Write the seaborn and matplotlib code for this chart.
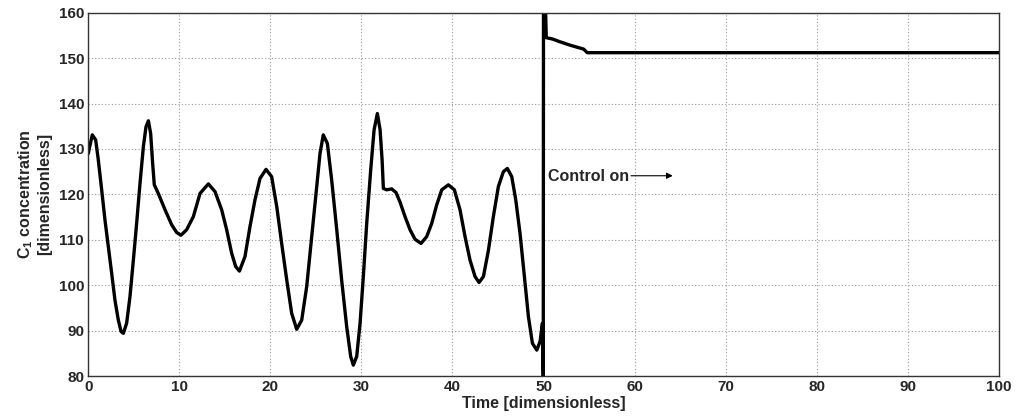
import numpy as np
import pandas as pd
import matplotlib
matplotlib.use("Agg")
import matplotlib.pyplot as plt
import seaborn as sns

# values (time, C1 concentration)
time = [0.0, 0.08, 0.44, 0.81, 1.10, 1.47, 1.83, 2.2, 2.57, 2.93, 3.3, 3.6, 3.85,
        4.21, 4.58, 4.95, 5.31, 5.68, 6.05, 6.34, 6.6, 6.85, 7.07, 7.25, 7.69,
        8.43, 9.16, 9.71, 10.18, 10.8, 11.54, 12.27, 13.19, 13.92, 14.65, 15.2,
        15.75, 16.19, 16.6, 17.21, 17.76, 18.31, 18.86, 19.52, 20.14, 20.7,
        21.24, 21.8, 22.34, 22.89, 23.44, 23.99, 24.54, 25.09, 25.45, 25.81,
        26.26, 26.73, 27.29, 27.83, 28.38, 28.82, 29.11, 29.48, 29.85, 30.21,
        30.58, 31.02, 31.39, 31.75, 32.05, 32.27, 32.41, 32.78, 33.33, 33.8,
        34.24, 34.79, 35.34, 35.89, 36.55, 37.17, 37.72, 38.27, 38.82, 39.55,
        40.21, 40.83, 41.38, 41.93, 42.48, 42.92, 43.4, 43.95, 44.49, 45.04,
        45.59, 46.03, 46.51, 46.95, 47.42, 47.9, 48.34, 48.78, 49.26, 49.62,
        49.88, 49.97, 50.0, 50.05, 50.3, 51.0, 51.8, 53.0, 54.4, 54.8, 60.0,
        70.0, 80.0, 90.0, 100.0]
conc = [129.0, 129.8, 133.1, 132.0, 127.6, 121.0, 114.4, 108.5, 102.6, 96.7, 92.3,
        89.8, 89.4, 91.6, 97.5, 105.5, 113.6, 122.4, 130.5, 134.9, 136.2, 133.4,
        126.8, 122.1, 120.2, 116.6, 113.3, 111.6, 111.0, 112.2, 115.1, 120.2,
        122.3, 120.6, 116.6, 112.2, 107.0, 104.1, 103.1, 106.3, 112.9, 118.8,
        123.5, 125.5, 123.9, 117.3, 109.2, 101.1, 93.8, 90.3, 92.3, 99.7, 110.7,
        121.7, 129.0, 133.1, 131.2, 123.2, 112.2, 101.1, 90.9, 84.3, 82.4, 84.3,
        91.6, 101.9, 113.6, 125.4, 134.2, 137.8, 134.2, 127.6, 121.3, 121.0,
        121.2, 120.4, 118.3, 115.1, 112.2, 110.1, 109.2, 110.7, 113.6, 117.7,
        121.0, 122.1, 121.0, 116.6, 110.7, 105.5, 101.9, 100.6, 101.9, 107.7,
        115.1, 121.7, 125.0, 125.7, 123.9, 118.8, 111.4, 101.9, 93.1, 87.2,
        85.7, 87.6, 91.6, 80.0, 175.0, 175.0, 154.5, 154.2, 153.6, 152.8,
        152.0, 151.2, 151.2, 151.2, 151.2, 151.2, 151.2]

xticks = [0, 10, 20, 30, 40, 50, 60, 70, 80, 90, 100]
yticks = [80, 90, 100, 110, 120, 130, 140, 150, 160]

df = pd.DataFrame({"t": time, "c": conc})

sns.set_style("white")
plt.rcParams["font.family"] = ["Liberation Sans", "DejaVu Sans"]
plt.rcParams["font.weight"] = "bold"
plt.rcParams["mathtext.fontset"] = "custom"
plt.rcParams["mathtext.rm"] = "Liberation Sans:bold"
plt.rcParams["mathtext.bf"] = "Liberation Sans:bold"
plt.rcParams["lines.solid_joinstyle"] = "round"
plt.rcParams["lines.solid_capstyle"] = "round"

fig = plt.figure(figsize=(10.23, 4.17), dpi=100)
ax = fig.add_axes([0.0863, 0.0983, 0.89, 0.8712])

sns.lineplot(data=df, x="t", y="c", sort=False, estimator=None,
             color="black", linewidth=2.4, ax=ax)

ax.set_xlim(0, 100)
ax.set_ylim(80, 160)
ax.set_xticks(xticks)
ax.set_yticks(yticks)
ax.grid(True, linestyle=(0, (1, 2)), color="#9a9a9a", linewidth=0.8)
ax.tick_params(direction="in", length=4, pad=3, color="#333333")
plt.setp(ax.get_xticklabels() + ax.get_yticklabels(), fontsize=11,
         fontweight="bold")
for s in ax.spines.values():
    s.set_color("#333333")
    s.set_linewidth(1.0)

ax.set_xlabel("Time [dimensionless]", fontsize=11.5, fontweight="bold",
              labelpad=1)
ax.set_ylabel("C$_1$ concentration\n[dimensionless]", fontsize=11.5,
              fontweight="bold", labelpad=5, linespacing=1.1)

ax.annotate("", xy=(64.5, 124.1), xytext=(59.3, 124.1),
            arrowprops=dict(arrowstyle="-|>", color="black", lw=0.8,
                            mutation_scale=9))
ax.text(50.5, 124.0, "Control on", fontsize=11.5, fontweight="bold",
        va="center", ha="left")

fig.savefig("out.png", dpi=100)
